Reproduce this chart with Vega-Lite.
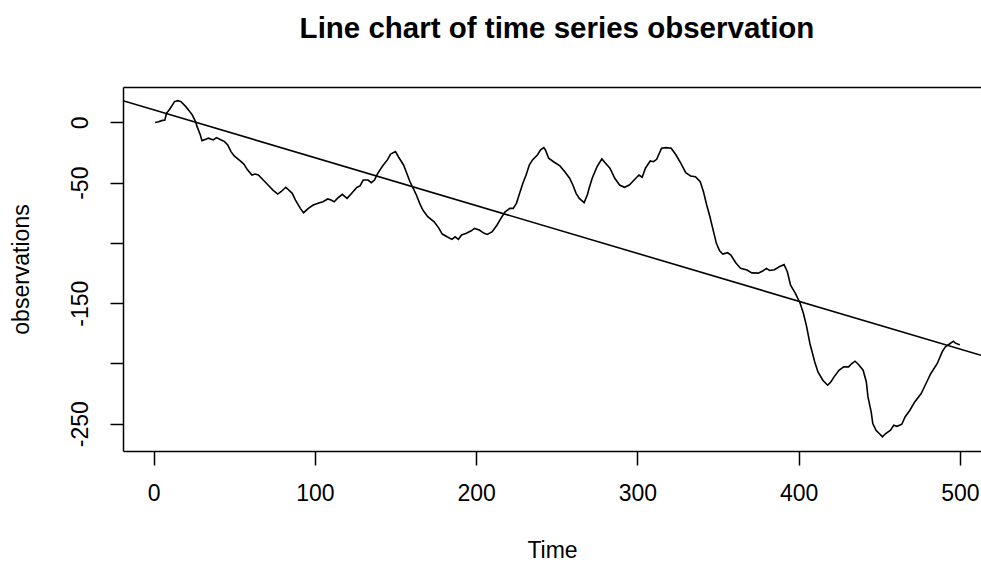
{
  "$schema": "https://vega.github.io/schema/vega-lite/v6.json",
  "width": 858,
  "height": 364,
  "autosize": {"type": "none"},
  "padding": {"left": 123, "top": 87, "right": 0, "bottom": 114},
  "background": "white",
  "view": {"stroke": null},
  "config": {
    "font": "Liberation Sans",
    "axis": {
      "domainColor": "#000000",
      "domainWidth": 1.5,
      "tickColor": "#000000",
      "tickWidth": 1.5,
      "labelColor": "#000000",
      "titleColor": "#000000",
      "labelFont": "Liberation Sans",
      "titleFont": "Liberation Sans",
      "labelFontSize": 23,
      "titleFontSize": 23,
      "titleFontWeight": "normal",
      "grid": false,
      "labelOverlap": false,
      "labelFlush": false
    }
  },
  "title": {
    "text": "Line chart of time series observation",
    "font": "Liberation Sans",
    "fontSize": 29.5,
    "fontWeight": "bold",
    "color": "#000000",
    "anchor": "middle",
    "baseline": "alphabetic",
    "offset": 20,
    "dx": 5
  },
  "layer": [
    {
      "data": {
        "values": [
          {"t": 1, "obs": 0}, {"t": 3, "obs": 0.5}, {"t": 5, "obs": 1.5}, {"t": 7, "obs": 2},
          {"t": 8, "obs": 7.6}, {"t": 10, "obs": 11}, {"t": 13, "obs": 17.3}, {"t": 15, "obs": 18.1},
          {"t": 17, "obs": 17.3}, {"t": 20, "obs": 13.1}, {"t": 22, "obs": 9.8}, {"t": 24, "obs": 6.2},
          {"t": 26, "obs": 0.7}, {"t": 27, "obs": -3.5}, {"t": 29, "obs": -10.4}, {"t": 30, "obs": -15.1},
          {"t": 34, "obs": -13.1}, {"t": 37, "obs": -14.5}, {"t": 39, "obs": -12.6}, {"t": 41, "obs": -14},
          {"t": 44, "obs": -15.9}, {"t": 46, "obs": -18.7}, {"t": 48, "obs": -24.2}, {"t": 50, "obs": -27.8},
          {"t": 53, "obs": -31.1}, {"t": 56, "obs": -34.5}, {"t": 58, "obs": -38.9}, {"t": 61, "obs": -43.6},
          {"t": 63, "obs": -42.8}, {"t": 65, "obs": -43.6}, {"t": 68, "obs": -47.8}, {"t": 71, "obs": -51.9},
          {"t": 74, "obs": -56.1}, {"t": 77, "obs": -59.4}, {"t": 79, "obs": -57.5}, {"t": 82, "obs": -53.8},
          {"t": 86, "obs": -58.8}, {"t": 88, "obs": -64.4}, {"t": 91, "obs": -71.3}, {"t": 93, "obs": -74.9},
          {"t": 96, "obs": -71.3}, {"t": 99, "obs": -68.5}, {"t": 102, "obs": -67.1}, {"t": 105, "obs": -65.8},
          {"t": 108, "obs": -63.5}, {"t": 110, "obs": -64.4}, {"t": 112, "obs": -65.8}, {"t": 114, "obs": -63},
          {"t": 117, "obs": -59.6}, {"t": 120, "obs": -63}, {"t": 123, "obs": -58.5}, {"t": 126, "obs": -54},
          {"t": 128, "obs": -52.7}, {"t": 130, "obs": -47.8}, {"t": 133, "obs": -47.8}, {"t": 135, "obs": -50},
          {"t": 137, "obs": -47.8}, {"t": 139, "obs": -42.2}, {"t": 142, "obs": -36.1}, {"t": 145, "obs": -31.1},
          {"t": 147, "obs": -26.2}, {"t": 150, "obs": -24.2}, {"t": 152, "obs": -28.9}, {"t": 155, "obs": -35.3},
          {"t": 157, "obs": -42.2}, {"t": 159, "obs": -49.2}, {"t": 161, "obs": -54.7}, {"t": 163, "obs": -60.2},
          {"t": 165, "obs": -67.1}, {"t": 167, "obs": -72.7}, {"t": 170, "obs": -78.2}, {"t": 174, "obs": -82.4},
          {"t": 177, "obs": -87.9}, {"t": 179, "obs": -92.6}, {"t": 182, "obs": -94.9}, {"t": 185, "obs": -97},
          {"t": 187, "obs": -94.9}, {"t": 189, "obs": -97}, {"t": 191, "obs": -93.4}, {"t": 194, "obs": -92},
          {"t": 197, "obs": -89.9}, {"t": 199, "obs": -87.9}, {"t": 202, "obs": -89.3}, {"t": 205, "obs": -92},
          {"t": 207, "obs": -92.9}, {"t": 210, "obs": -90.7}, {"t": 213, "obs": -85.1}, {"t": 216, "obs": -78.2},
          {"t": 218, "obs": -74.1}, {"t": 221, "obs": -71.3}, {"t": 223, "obs": -71.3}, {"t": 225, "obs": -67.1},
          {"t": 227, "obs": -58.8}, {"t": 229, "obs": -50.5}, {"t": 231, "obs": -43.6}, {"t": 233, "obs": -35.3},
          {"t": 235, "obs": -31.1}, {"t": 238, "obs": -27}, {"t": 240, "obs": -22.8}, {"t": 242, "obs": -20.9},
          {"t": 243, "obs": -22.8}, {"t": 245, "obs": -29.7}, {"t": 248, "obs": -32.6}, {"t": 252, "obs": -36.1},
          {"t": 255, "obs": -40.9}, {"t": 258, "obs": -46.3}, {"t": 260, "obs": -51.9}, {"t": 262, "obs": -58.8},
          {"t": 264, "obs": -63}, {"t": 267, "obs": -66.5}, {"t": 269, "obs": -60}, {"t": 270, "obs": -55},
          {"t": 272, "obs": -46.3}, {"t": 275, "obs": -36.7}, {"t": 278, "obs": -30.3}, {"t": 280, "obs": -33.4},
          {"t": 283, "obs": -38}, {"t": 286, "obs": -46.3}, {"t": 289, "obs": -51.9}, {"t": 292, "obs": -53.8},
          {"t": 295, "obs": -51.9}, {"t": 298, "obs": -47.8}, {"t": 301, "obs": -43.6}, {"t": 303, "obs": -45.5},
          {"t": 305, "obs": -38}, {"t": 308, "obs": -32}, {"t": 310, "obs": -32.6}, {"t": 312, "obs": -30.6},
          {"t": 315, "obs": -21.4}, {"t": 318, "obs": -20.9}, {"t": 321, "obs": -21.4}, {"t": 324, "obs": -27},
          {"t": 327, "obs": -33.9}, {"t": 330, "obs": -41.7}, {"t": 333, "obs": -44.4}, {"t": 336, "obs": -45},
          {"t": 339, "obs": -49.2}, {"t": 341, "obs": -57.5}, {"t": 343, "obs": -68.5}, {"t": 345, "obs": -78.2},
          {"t": 347, "obs": -89.3}, {"t": 349, "obs": -100.3}, {"t": 351, "obs": -106.5}, {"t": 353, "obs": -109.2},
          {"t": 356, "obs": -108.1}, {"t": 358, "obs": -110}, {"t": 361, "obs": -116.4}, {"t": 364, "obs": -121.1},
          {"t": 368, "obs": -122.5}, {"t": 371, "obs": -124.8}, {"t": 375, "obs": -125}, {"t": 378, "obs": -123},
          {"t": 380, "obs": -121.1}, {"t": 382, "obs": -122.8}, {"t": 385, "obs": -122.2}, {"t": 388, "obs": -119.8},
          {"t": 391, "obs": -118}, {"t": 393, "obs": -123.9}, {"t": 395, "obs": -135}, {"t": 398, "obs": -141.9},
          {"t": 401, "obs": -150.2}, {"t": 403, "obs": -158.5}, {"t": 405, "obs": -169.6}, {"t": 407, "obs": -183.4},
          {"t": 410, "obs": -198.7}, {"t": 412, "obs": -207}, {"t": 415, "obs": -213.9}, {"t": 418, "obs": -218},
          {"t": 420, "obs": -215.3}, {"t": 422, "obs": -211.1}, {"t": 425, "obs": -205.6}, {"t": 428, "obs": -202.8},
          {"t": 431, "obs": -202.8}, {"t": 433, "obs": -200}, {"t": 435, "obs": -198.1}, {"t": 437, "obs": -200.6},
          {"t": 440, "obs": -205.6}, {"t": 442, "obs": -215.3}, {"t": 443, "obs": -227.7}, {"t": 445, "obs": -240.2},
          {"t": 446, "obs": -249.8}, {"t": 448, "obs": -255.4}, {"t": 450, "obs": -258.1}, {"t": 452, "obs": -260.9},
          {"t": 454, "obs": -258.1}, {"t": 457, "obs": -255.4}, {"t": 459, "obs": -251.2}, {"t": 461, "obs": -252.1},
          {"t": 464, "obs": -250.4}, {"t": 466, "obs": -244.4}, {"t": 469, "obs": -238.8}, {"t": 472, "obs": -231.9},
          {"t": 476, "obs": -224.9}, {"t": 479, "obs": -216.6}, {"t": 482, "obs": -208.3}, {"t": 486, "obs": -200},
          {"t": 489, "obs": -190.4}, {"t": 491, "obs": -186.2}, {"t": 494, "obs": -183.4}, {"t": 496, "obs": -181.5},
          {"t": 497, "obs": -182.9}, {"t": 499, "obs": -184}, {"t": 500, "obs": -184.5}
        ]
      },
      "mark": {"type": "line", "color": "#000000", "strokeWidth": 1.6, "clip": true},
      "encoding": {
        "x": {
          "field": "t",
          "type": "quantitative",
          "scale": {"domain": [-18.96, 513.1], "nice": false, "zero": false},
          "axis": {
            "orient": "bottom",
            "title": "Time",
            "values": [0, 100, 200, 300, 400, 500],
            "tickSize": 14,
            "labelPadding": 17,
            "titlePadding": 34
          }
        },
        "y": {
          "field": "obs",
          "type": "quantitative",
          "scale": {"domain": [-272.6, 29.4], "nice": false, "zero": false},
          "axis": {
            "orient": "left",
            "title": "observations",
            "values": [0, -50, -100, -150, -200, -250],
            "labelExpr": "datum.value == -100 || datum.value == -200 ? '' : toString(datum.value)",
            "labelAngle": -90,
            "labelAlign": "center",
            "labelBaseline": "bottom",
            "tickSize": 13,
            "labelPadding": 18,
            "titlePadding": 36
          }
        }
      }
    },
    {
      "data": {
        "values": [
          {"t": -18.96, "fit": 18.0},
          {"t": 513.1, "fit": -193.2}
        ]
      },
      "mark": {"type": "line", "color": "#000000", "strokeWidth": 1.6, "clip": true},
      "encoding": {
        "x": {
          "field": "t",
          "type": "quantitative",
          "axis": {
            "orient": "top",
            "title": null,
            "labels": false,
            "ticks": false,
            "domain": true
          }
        },
        "y": {"field": "fit", "type": "quantitative"}
      }
    }
  ],
  "resolve": {"axis": {"x": "independent"}}
}
